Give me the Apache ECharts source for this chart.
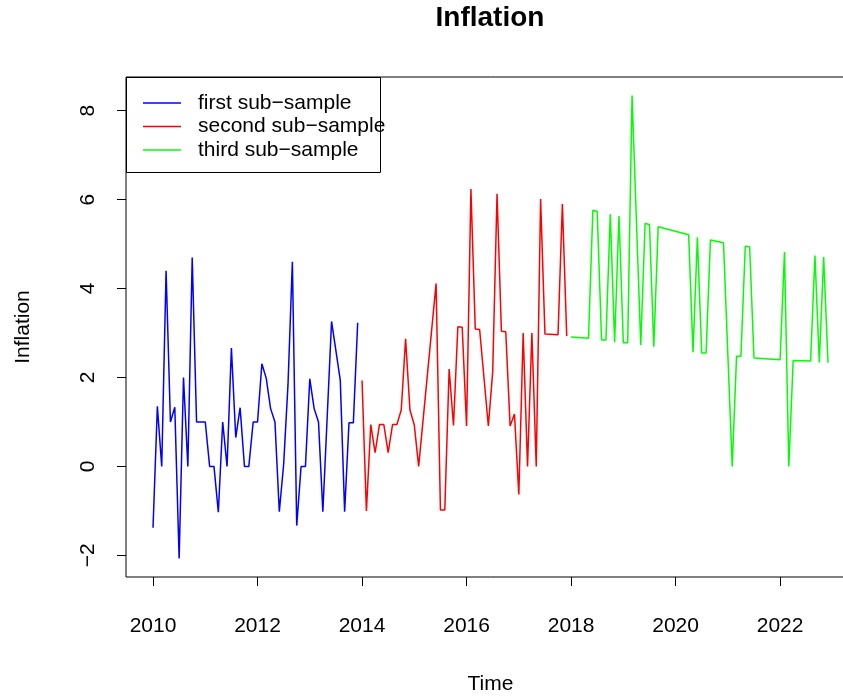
<!DOCTYPE html>
<html>
<head>
<meta charset="utf-8">
<script src="https://cdn.jsdelivr.net/npm/echarts@6/dist/echarts.min.js"></script>
<style>html,body{margin:0;padding:0;background:#fff;overflow:hidden;width:843px;height:698px;}#c{width:860px;height:698px;}</style>
</head>
<body>
<div id="c"></div>
<script>
// Month index counted from January 2010
const firstMonths = [0,1,2,3,4,5,6,7,8,9,10,11,12,13,14,15,16,17,18,19,20,21,22,23,24,25,26,27,28,29,30,31,32,33,34,35,36,37,38,39,41,43,44,45,46,47];
const firstValues = [-1.38,1.35,0,4.40,1.0,1.33,-2.07,2.0,0,4.70,1.0,1.0,1.0,0,0,-1.03,1.0,0,2.66,0.65,1.32,0,0,1.0,1.0,2.31,1.98,1.30,1.0,-1.02,0.05,1.85,4.60,-1.33,0,0,1.97,1.30,1.0,-1.02,3.26,1.94,-1.02,0.98,0.98,3.23];

const secondMonths = [48,49,50,51,52,53,54,55,56,57,58,59,60,61,65,66,67,68,69,70,71,72,73,74,75,77,78,79,80,81,82,83,84,85,86,87,88,89,90,93,94,95];
const secondValues = [1.93,-1.0,0.94,0.31,0.94,0.94,0.31,0.94,0.94,1.27,2.87,1.27,0.93,0,4.11,-0.98,-0.98,2.19,0.92,3.14,3.13,0.91,6.24,3.09,3.08,0.91,2.12,6.13,3.04,3.03,0.91,1.18,-0.63,3.0,0,3.0,0,6.01,2.98,2.96,5.90,2.93];

const thirdMonths = [96,100,101,102,103,104,105,106,107,108,109,110,112,113,114,115,116,123,124,125,126,127,128,131,133,134,135,136,137,138,144,145,146,147,151,152,153,154,155];
const thirdValues = [2.91,2.88,5.76,5.73,2.84,2.84,5.67,2.79,5.63,2.78,2.78,8.34,2.73,5.46,5.44,2.69,5.39,5.21,2.57,5.15,2.55,2.55,5.09,5.03,0,2.48,2.48,4.95,4.94,2.44,2.40,4.82,0,2.38,2.37,4.74,2.34,4.71,2.33];

const seriesNames = ['first sub\u2212sample','second sub\u2212sample','third sub\u2212sample'];
const xTicks = [2010,2012,2014,2016,2018,2020,2022];
const yTicks = [-2,0,2,4,6,8];

const FONT = 'Liberation Sans, Arial, Helvetica, sans-serif';
const toPairs = (ms, vs) => ms.map((m, i) => [2010 + m / 12, vs[i]]);
const minus = v => String(v).replace('-', '\u2212');

const chart = echarts.init(document.getElementById('c'), null, {renderer: 'canvas'});
chart.setOption({
  animation: false,
  backgroundColor: '#fff',
  textStyle: {fontFamily: FONT, color: '#000'},
  title: {
    text: 'Inflation', left: 490, top: 4, textAlign: 'center', padding: 0,
    textStyle: {fontFamily: FONT, fontSize: 28, fontWeight: 'bold', color: '#000'}
  },
  grid: {left: 126, top: 77, width: 729, height: 500, outerBoundsMode: 'none', containLabel: false,
         show: true, borderColor: '#000', borderWidth: 1, backgroundColor: 'transparent'},
  legend: {
    data: seriesNames, orient: 'vertical', left: 143, top: 92.5, padding: 0,
    itemWidth: 38, itemHeight: 1.5, itemGap: 2.5, icon: 'rect',
    textStyle: {fontFamily: FONT, fontSize: 21, color: '#000', padding: [0, 0, 0, 12]}
  },
  graphic: [{
    type: 'rect', shape: {x: 126.5, y: 77.5, width: 254, height: 95},
    style: {fill: 'none', stroke: '#000', lineWidth: 1}, z: 10
  }],
  xAxis: {
    type: 'value', min: 2009.483, max: 2023.433,
    name: 'Time', nameLocation: 'middle', nameGap: 97,
    nameTextStyle: {fontFamily: FONT, fontSize: 21, color: '#000'},
    axisLine: {show: false, onZero: false}, splitLine: {show: false},
    axisTick: {show: true, customValues: xTicks, length: 9, lineStyle: {color: '#000', width: 1}},
    axisLabel: {customValues: xTicks, margin: 39, fontFamily: FONT, fontSize: 21, color: '#000', formatter: v => minus(v)}
  },
  yAxis: {
    type: 'value', min: -2.486, max: 8.756,
    name: 'Inflation', nameLocation: 'middle', nameGap: 92, nameRotate: 90,
    nameTextStyle: {fontFamily: FONT, fontSize: 21, color: '#000'},
    axisLine: {show: false, onZero: false}, splitLine: {show: false},
    axisTick: {show: true, customValues: yTicks, length: 9, lineStyle: {color: '#000', width: 1}},
    axisLabel: {customValues: yTicks, rotate: 90, margin: 27, fontFamily: FONT, fontSize: 21, color: '#000', formatter: v => minus(v)}
  },
  series: [
    {name: seriesNames[0], type: 'line', data: toPairs(firstMonths, firstValues), showSymbol: false, color: '#0000FF', lineStyle: {width: 1.5, color: '#0000FF'}},
    {name: seriesNames[1], type: 'line', data: toPairs(secondMonths, secondValues), showSymbol: false, color: '#FF0000', lineStyle: {width: 1.5, color: '#FF0000'}},
    {name: seriesNames[2], type: 'line', data: toPairs(thirdMonths, thirdValues), showSymbol: false, color: '#00FF00', lineStyle: {width: 1.5, color: '#00FF00'}}
  ]
});
</script>
</body>
</html>
